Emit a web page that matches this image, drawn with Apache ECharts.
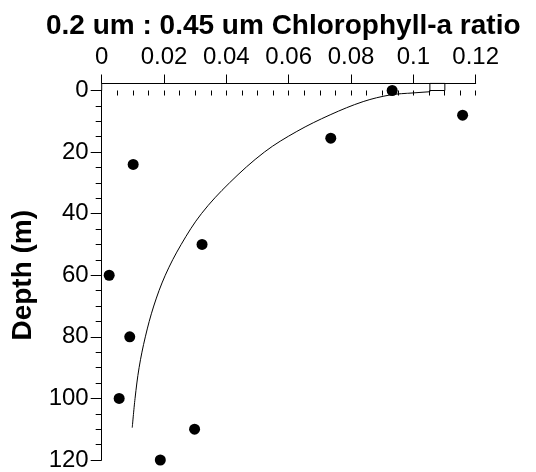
<!DOCTYPE html>
<html>
<head>
<meta charset="utf-8">
<script src="https://cdn.jsdelivr.net/npm/echarts@6/dist/echarts.min.js"></script>
<style>
  html, body { margin: 0; padding: 0; background: #fff; }
  #chart { width: 536px; height: 472px; }
</style>
</head>
<body>
<div id="chart"></div>
<script>
// Measured samples: size-fraction chlorophyll-a ratio against depth
const sampleRatio = [0.0932, 0.1158, 0.0735, 0.0101, 0.0322, 0.0024, 0.0090, 0.0056, 0.0298, 0.0188];
const sampleDepth = [0, 8, 15.5, 24, 50, 60, 80, 100, 110, 120];

// Fitted profile through the samples
const fitRatio = [0.0098, 0.0107, 0.0120, 0.0140, 0.0167, 0.0204, 0.0255, 0.0320, 0.0410, 0.0522, 0.0626, 0.0733, 0.0839, 0.0925, 0.0983];
const fitDepth = [109.5, 100, 90, 80, 70, 60, 50, 40, 30, 20, 13.3, 7.9, 3.6, 1.45, 0.9];

// Where the fitted line runs into the top axis
const fitEndRatio = [0.0983, 0.0983, 0.1053, 0.1053, 0.1101, 0.1101, 0.1053];
const fitEndDepth = [0.9, 0.4, 0.4, -2.3, -2.3, 0, 0];

// Axis ticks
const xTickLabels = ['0', '0.02', '0.04', '0.06', '0.08', '0.1', '0.12'];
const yTickLabels = ['0', '20', '40', '60', '80', '100', '120'];

const FONT = '"Liberation Sans", Arial, sans-serif';
const zip = (a, b) => a.map((v, i) => [v, b[i]]);

const chart = echarts.init(document.getElementById('chart'), null, { renderer: 'canvas' });

chart.setOption({
  backgroundColor: '#ffffff',
  animation: false,
  title: {
    text: '0.2 um : 0.45 um Chlorophyll-a ratio',
    left: 41,
    top: 7,
    textStyle: { fontFamily: FONT, fontSize: 28, fontWeight: 'bold', color: '#000' }
  },
  grid: { left: 101.7, right: 60.3, top: 90.5, bottom: 8.7, containLabel: false },
  xAxis: [
    {
      type: 'value', position: 'top', offset: 7,
      min: 0, max: 0.12, interval: 0.02,
      axisLine: { show: true, onZero: false, lineStyle: { color: '#000', width: 1 } },
      axisTick: { show: true, inside: false, length: 9, lineStyle: { color: '#000', width: 1 } },
      axisLabel: {
        show: true, margin: 14, color: '#000', fontFamily: FONT, fontSize: 24,
        formatter: v => xTickLabels[Math.round(v / 0.02)]
      },
      splitLine: { show: false }
    },
    {
      type: 'value', position: 'top', offset: 7,
      min: 0, max: 0.12, interval: 0.005,
      axisLine: { show: false },
      axisTick: { show: true, inside: true, length: 5, lineStyle: { color: '#000', width: 1 } },
      axisLabel: { show: false },
      splitLine: { show: false }
    }
  ],
  yAxis: {
    type: 'value', inverse: true,
    min: 0, max: 120, interval: 20,
    name: 'Depth (m)', nameLocation: 'middle', nameGap: 59, nameRotate: 90,
    nameTextStyle: { fontFamily: FONT, fontSize: 28, fontWeight: 'bold', color: '#000' },
    axisLine: { show: true, onZero: false, lineStyle: { color: '#000', width: 1 } },
    axisTick: { show: true, inside: false, length: 11, lineStyle: { color: '#000', width: 1 } },
    minorTick: { show: true, splitNumber: 4, length: 6, lineStyle: { color: '#000', width: 1 } },
    axisLabel: {
      show: true, margin: 13, color: '#000', fontFamily: FONT, fontSize: 24,
      formatter: v => yTickLabels[Math.round(v / 20)]
    },
    splitLine: { show: false }
  },
  series: [
    {
      // left axis continues up to the offset top axis
      type: 'line', xAxisIndex: 0, silent: true, clip: false, symbol: 'none',
      data: [[0, -2.3], [0, 0]],
      lineStyle: { color: '#000', width: 1 }
    },
    {
      type: 'line', xAxisIndex: 0, silent: true, clip: false, symbol: 'none',
      smooth: 0.35,
      data: zip(fitRatio, fitDepth),
      lineStyle: { color: '#000', width: 1 }
    },
    {
      type: 'line', xAxisIndex: 0, silent: true, clip: false, symbol: 'none',
      data: zip(fitEndRatio, fitEndDepth),
      lineStyle: { color: '#000', width: 1 }
    },
    {
      type: 'scatter', xAxisIndex: 0, clip: false,
      symbol: 'circle', symbolSize: 11,
      data: zip(sampleRatio, sampleDepth),
      itemStyle: { color: '#000', opacity: 1 }
    }
  ]
});
</script>
</body>
</html>
